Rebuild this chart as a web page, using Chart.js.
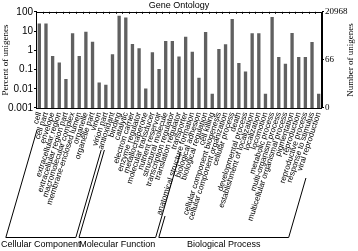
<!DOCTYPE html>
<html><head><meta charset="utf-8">
<script src="https://cdn.jsdelivr.net/npm/chart.js@4"></script>
<style>html,body{margin:0;padding:0;background:#fff}</style>
</head><body>
<canvas id="c" width="358" height="251" style="width:358px;height:251px;display:block"></canvas>
<script>
const categories = [
 'cell','cell part','envelope','extracellular region','extracellular region part','macromolecular complex','membrane-enclosed lumen','organelle','organelle part','virion','virion part',
 'antioxidant','binding','catalytic','electron carrier','enzyme regulator','metallochaperone','molecular transducer','nutrient reservoir','structural molecule','transcription regulator','translation regulator','transporter',
 'anatomical structure formation','biological adhesion','biological regulation','cell killing','cellular component biogenesis','cellular component organization','cellular process','death','developmental process','establishment of localization','localization','locomotion','metabolic process','multi-organism process','multicellular organismal process','pigmentation','reproduction','reproductive process','response to stimulus','viral reproduction'
];
const percents = [
 25,25,0.51,0.23,0.032,7.6,0.51,9.2,2.8,0.021,0.016,
 0.62,62,51,2.1,1.27,0.0104,0.79,0.105,3.0,3.0,0.47,5.1,
 0.85,0.037,8.9,0.0055,1.17,2.05,42,0.22,0.079,7.6,7.6,0.0055,53,0.45,0.2,7.9,0.45,0.45,2.7,0.0055
];
const groupNames = ['Cellular Component','Molecular Function','Biological Process'];
const groupStarts = [0,11,23];
const groupEnds = [10,22,42];
const leftTicks = [100,10,1,0.1,0.01,0.001];
const totalUnigenes = 20968;
const rightTicks = [0,66,20968];

const rightMin = totalUnigenes*0.001/100;

const frame = {
  id:'frame',
  afterDraw(chart){
    const {ctx, chartArea:a, scales} = chart;
    const x = scales.x;
    ctx.save();
    ctx.strokeStyle='#000'; ctx.lineWidth=1;
    ctx.strokeRect(Math.round(a.left)+0.5, Math.round(a.top)+0.5, Math.round(a.right-a.left)-1, Math.round(a.bottom-a.top));
    ctx.beginPath();
    for(let i=0;i<=categories.length;i++){
      const px = Math.round(a.left + (a.right-a.left)*i/categories.length)+0.5;
      ctx.moveTo(px, a.top); ctx.lineTo(px, a.top+2);
    }
    ctx.stroke();
    const k = 0.29; const yb = 237.5;
    const topsL = [130,150,216], topsR = [150,152,178];
    ctx.font = '9px "Liberation Sans", Arial, sans-serif';
    ctx.fillStyle='#000'; ctx.textAlign='center'; ctx.textBaseline='middle';
    for(let g=0; g<groupNames.length; g++){
      const bl = x.getPixelForValue(groupStarts[g]) - 33.5;
      const br = x.getPixelForValue(groupEnds[g]) - 30;
      ctx.beginPath();
      ctx.moveTo(bl + (yb-topsL[g])*k, topsL[g]); ctx.lineTo(bl, yb); ctx.lineTo(br, yb); ctx.lineTo(br + (yb-topsR[g])*k, topsR[g]);
      ctx.stroke();
      ctx.fillText(groupNames[g], (bl+br)/2, 245);
    }
    ctx.font = '9px "Liberation Serif", "Times New Roman", serif';
    ctx.translate(351, 60); ctx.rotate(-Math.PI/2);
    ctx.fillText('Number of unigenes', 0, 0);
    ctx.restore();
  }
};

new Chart(document.getElementById('c'), {
  type:'bar',
  data:{ labels: categories, datasets:[{ data: percents, backgroundColor:'#606060', barPercentage:0.5, categoryPercentage:1 }]},
  options:{
    responsive:false, animation:false, devicePixelRatio:1,
    layout:{padding:0},
    plugins:{ legend:{display:false}, tooltip:{enabled:false},
      title:{display:true, text:'Gene Ontology', color:'#000', font:{family:'"Liberation Sans", Arial, sans-serif', size:9, weight:'normal'}, padding:{top:0,bottom:1}}},
    scales:{
      x:{ type:'category', offset:true, grid:{display:false, drawTicks:false}, border:{display:false},
          ticks:{autoSkip:false, minRotation:72, maxRotation:72, padding:3, color:'#000', font:{family:'"Liberation Sans", Arial, sans-serif', size:8}},
          afterFit(s){ s.height = 143; } },
      y:{ type:'logarithmic', position:'left', min:0.001, max:100,
          afterBuildTicks(s){ s.ticks = leftTicks.map(v=>({value:v})); },
          grid:{drawOnChartArea:false, tickLength:2, color:'#000'}, border:{color:'#000'},
          ticks:{color:'#000', padding:1, font:{family:'"Liberation Sans", Arial, sans-serif', size:10}, callback:(v)=>String(v)},
          title:{display:true, text:'Percent of unigenes', color:'#000', padding:0, font:{family:'"Liberation Serif", "Times New Roman", serif', size:9}},
          afterFit(s){ s.width = 36; } },
      y2:{ type:'logarithmic', position:'right', min:rightMin, max:totalUnigenes,
          afterBuildTicks(s){ s.ticks = rightTicks.map(v=>({value: v===0 ? rightMin : v})); },
          grid:{drawOnChartArea:false, tickLength:2, color:'#000'}, border:{color:'#000'},
          ticks:{color:'#000', padding:1, font:{family:'"Liberation Serif", "Times New Roman", serif', size:9}, callback:(v)=> v<=rightMin*1.0001 ? '0' : String(Math.round(v))},
          afterFit(s){ s.width = 36; } }
    }
  },
  plugins:[frame]
});
</script>
</body></html>
